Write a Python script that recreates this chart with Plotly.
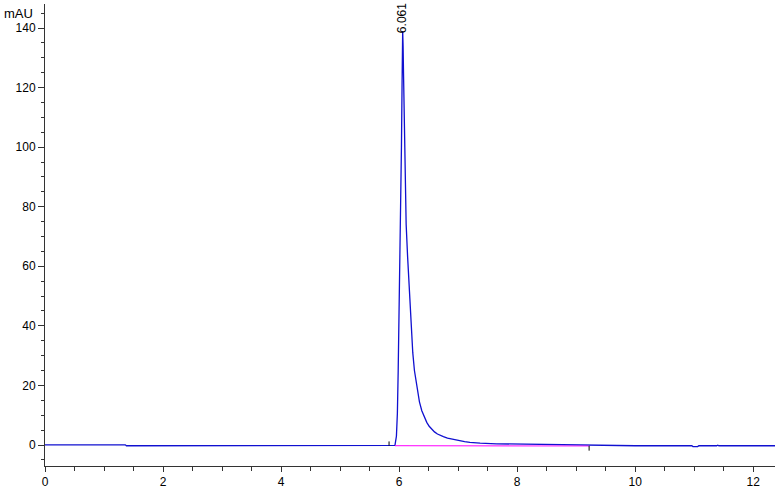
import plotly.graph_objects as go

# Chromatogram signal (time in min, absorbance in mAU)
time_min = [0.0, 1.36, 1.38, 3.0, 4.58, 4.60, 4.64, 5.80, 5.93, 5.955, 5.971,
            5.985, 6.0, 6.015, 6.029, 6.040, 6.050, 6.057, 6.061, 6.068, 6.075,
            6.090, 6.103, 6.120, 6.145, 6.169, 6.198, 6.232, 6.260, 6.300, 6.345,
            6.385, 6.420, 6.469, 6.510, 6.554, 6.600, 6.650, 6.700, 6.751, 6.820,
            6.900, 6.970, 7.034, 7.110, 7.200, 7.373, 7.650, 7.950, 8.500, 9.200,
            10.0, 10.96, 10.98, 11.06, 11.08, 11.38, 11.40, 11.42, 12.37]
signal_mau = [0.05, 0.05, -0.25, -0.25, -0.25, -0.05, -0.25, -0.25, -0.15, 3.0, 10.6,
              25.0, 42.0, 60.0, 74.0, 100.0, 120.0, 135.0, 139.0, 134.0, 125.0,
              105.0, 90.0, 74.0, 63.0, 53.0, 42.0, 31.0, 25.0, 19.6, 14.5,
              11.5, 9.6, 7.6, 6.3, 5.2, 4.4, 3.7, 3.2, 2.8, 2.3,
              1.9, 1.55, 1.3, 1.1, 0.9, 0.6, 0.4, 0.3, 0.15, -0.15,
              -0.25, -0.25, -0.55, -0.55, -0.25, -0.25, -0.05, -0.25, -0.25]

# Integration baseline of the peak
baseline_time = [5.93, 9.22]
baseline_mau = [-0.2, -0.35]

# Integration start / end markers
start_marker_time = [5.83, 5.83]
start_marker_mau = [-0.2, 1.2]
end_marker_time = [9.22, 9.22]
end_marker_mau = [-0.3, -1.9]

peak_time = 6.061
peak_height = 139.0
peak_label = "6.061"

fig = go.Figure()
fig.add_trace(go.Scatter(x=time_min, y=signal_mau, mode="lines",
                         line=dict(color="#1010D0", width=1.3)))
fig.add_trace(go.Scatter(x=baseline_time, y=baseline_mau, mode="lines",
                         line=dict(color="#FF00FF", width=1.1), opacity=0.8,
                         hoverinfo="skip"))
fig.add_trace(go.Scatter(x=start_marker_time, y=start_marker_mau, mode="lines",
                         line=dict(color="#000000", width=1)))
fig.add_trace(go.Scatter(x=end_marker_time, y=end_marker_mau, mode="lines",
                         line=dict(color="#000000", width=1)))

fig.add_annotation(x=peak_time, y=peak_height - 1.5, text=peak_label, textangle=-90,
                   showarrow=False, yanchor="bottom", xanchor="center",
                   font=dict(size=12, color="#000000", family="Liberation Sans, Arial"))
fig.add_annotation(xref="paper", x=0, y=145, text="mAU", showarrow=False,
                   xanchor="right", yanchor="middle", xshift=-10,
                   font=dict(size=13, color="#000000", family="Liberation Sans, Arial"))

fig.update_layout(
    width=775, height=491,
    margin=dict(l=45, r=0, t=4, b=25, autoexpand=False),
    paper_bgcolor="white", plot_bgcolor="white",
    showlegend=False,
    font=dict(family="Liberation Sans, Arial", size=12, color="#000000"),
)
fig.update_xaxes(range=[0, 12.37], showgrid=False, zeroline=False,
                 showline=True, linecolor="#333333", linewidth=1,
                 ticks="outside", ticklen=5, tickcolor="#333333",
                 tick0=0, dtick=2, automargin=False,
                 minor=dict(ticks="outside", ticklen=4, dtick=0.5, tick0=0,
                            tickcolor="#333333", showgrid=False),
                 tickfont=dict(size=12))
fig.update_yaxes(range=[-7.05, 148.06], showgrid=False, zeroline=False,
                 showline=True, linecolor="#333333", linewidth=1,
                 ticks="outside", ticklen=6, tickcolor="#333333",
                 tick0=0, dtick=20, automargin=False,
                 minor=dict(ticks="outside", ticklen=3, dtick=5, tick0=0,
                            tickcolor="#333333", showgrid=False),
                 tickfont=dict(size=12))

fig.write_html("out.html", config={"displayModeBar": False},
               post_script="document.body.style.margin='0';")
